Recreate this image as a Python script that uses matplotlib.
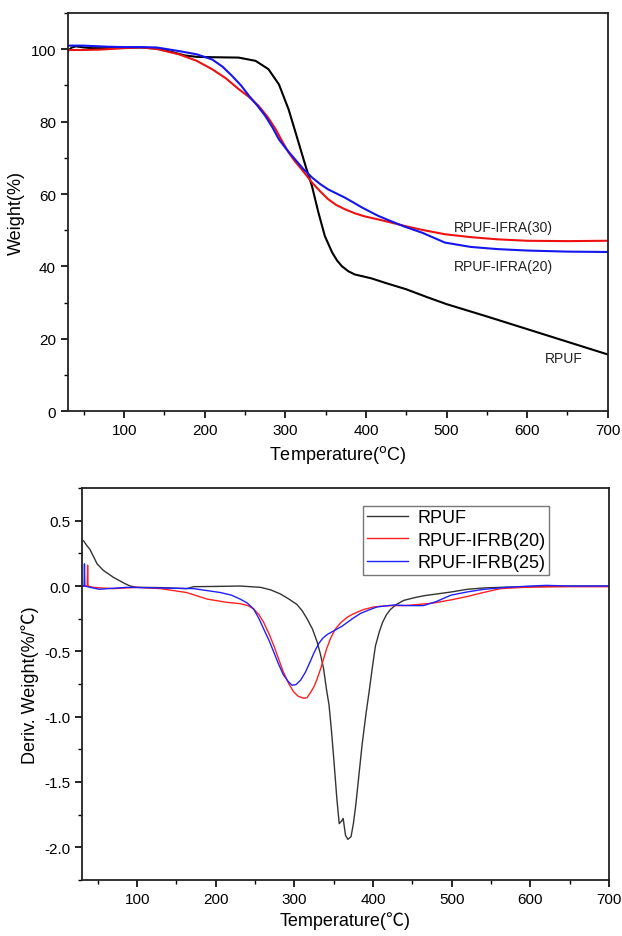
import numpy as np
import matplotlib.pyplot as plt
from matplotlib.ticker import MultipleLocator

plt.rcParams['font.family'] = ['Liberation Sans', 'Noto Sans CJK SC', 'DejaVu Sans']

## TGA (ust panel)
tga_rpuf_T = [30, 35, 40, 50, 60, 80, 100, 120, 140, 160, 175, 190, 210, 242, 263, 279, 292, 304, 314,
              325, 333, 341, 349, 358, 364, 370, 378, 386, 407, 425, 450, 475, 500, 550, 600, 650, 700]
tga_rpuf_W = [99.5, 100.5, 100.8, 100.5, 100.3, 100.3, 100.4, 100.5, 100.2, 99.2, 98.3, 97.9, 97.8,
              97.7, 96.8, 94.5, 90.3, 83.4, 76, 67.8, 62.2, 54.9, 48.4, 43.9, 41.7, 40.1, 38.7, 37.8,
              36.7, 35.4, 33.7, 31.6, 29.6, 26.2, 22.7, 19.2, 15.7]

tga_ifra30_T = [30, 50, 70, 100, 120, 140, 168, 190, 209, 226, 242, 255, 267, 278, 288, 296, 304, 312,
                320, 333, 343, 353, 363, 374, 386, 399, 415, 430, 448, 470, 498, 530, 563, 600, 650, 700]
tga_ifra30_W = [99.8, 99.8, 99.9, 100.3, 100.5, 100.1, 98.6, 96.8, 94.5, 92, 89, 86.8, 84.3, 81.3,
                77.9, 74.6, 71.5, 69, 66.9, 63.2, 60.8, 58.6, 57, 55.8, 54.7, 53.8, 53, 52.2, 51.2,
                50.1, 48.9, 48.1, 47.5, 47.1, 47, 47.1]

tga_ifra20_T = [30, 50, 80, 100, 120, 140, 168, 190, 209, 222, 234, 245, 255, 265, 275, 284, 292, 302,
                312, 322, 333, 343, 353, 364, 374, 385, 395, 415, 430, 448, 470, 498, 530, 563, 600,
                650, 700]
tga_ifra20_W = [101, 101, 100.7, 100.6, 100.6, 100.5, 99.5, 98.6, 97.2, 95.2, 92.6, 90, 87.1, 84.5,
                81.6, 78.4, 75.1, 72.2, 69.6, 67, 64.6, 62.8, 61.3, 60.1, 59, 57.6, 56.3, 54, 52.6,
                51, 49.3, 46.6, 45.4, 44.8, 44.4, 44.1, 44]

## DTG (alt panel)
dtg_rpuf_T = [30, 32, 36, 40, 45, 49, 57, 70, 83, 91, 100, 130, 163, 172, 200, 231, 257, 270, 282, 293,
              303, 310, 316, 323, 329, 333, 337, 341, 344, 347, 350, 354, 357, 360, 362, 365, 368,
              372, 375, 378, 382, 386, 391, 395, 399, 403, 408, 412, 417, 422, 430, 439, 452, 465,
              482, 500, 520, 540, 562, 600, 650, 700]
dtg_rpuf_D = [0.35, 0.345, 0.31, 0.28, 0.22, 0.17, 0.12, 0.066, 0.023, 0.0, -0.01, -0.012, -0.02,
              -0.005, -0.003, 0.0, -0.01, -0.03, -0.06, -0.1, -0.14, -0.19, -0.25, -0.33, -0.43,
              -0.52, -0.63, -0.8, -0.91, -1.1, -1.32, -1.63, -1.82, -1.8, -1.78, -1.91, -1.94, -1.92,
              -1.82, -1.68, -1.45, -1.22, -0.98, -0.81, -0.63, -0.46, -0.35, -0.28, -0.22, -0.18,
              -0.14, -0.11, -0.09, -0.074, -0.06, -0.045, -0.025, -0.015, -0.01, -0.005, 0.0, 0.0]

dtg_ifrb20_T = [30, 36.5, 37, 37.5, 44, 55, 70, 100, 130, 163, 189, 214, 231, 241, 248, 255, 261, 268,
                274, 280, 286, 293, 299, 305, 312, 316, 320, 325, 329, 333, 337, 341, 346, 352, 359,
                367, 376, 388, 401, 420, 440, 460, 477, 500, 520, 540, 562, 585, 605, 650, 700]
dtg_ifrb20_D = [0.0, 0.0, 0.16, 0.0, -0.01, -0.015, -0.02, -0.01, -0.02, -0.05, -0.1, -0.125, -0.135,
                -0.15, -0.175, -0.22, -0.28, -0.37, -0.46, -0.56, -0.66, -0.75, -0.81, -0.845, -0.86,
                -0.855, -0.82, -0.77, -0.71, -0.64, -0.56, -0.48, -0.4, -0.33, -0.28, -0.24, -0.21,
                -0.18, -0.16, -0.15, -0.15, -0.14, -0.13, -0.105, -0.08, -0.05, -0.02, -0.012,
                -0.008, -0.005, -0.005]

dtg_ifrb25_T = [30, 32.5, 33, 33.5, 40, 52, 62, 87, 130, 172, 206, 220, 231, 240, 248, 255, 261, 268,
                274, 280, 286, 292, 297, 302, 308, 314, 320, 325, 331, 336, 342, 348, 354, 360, 367,
                375, 384, 394, 405, 427, 445, 464, 480, 499, 520, 541, 570, 600, 620, 650, 700]
dtg_ifrb25_D = [0.0, 0.0, 0.17, 0.0, -0.01, -0.025, -0.02, -0.01, -0.015, -0.02, -0.05, -0.07, -0.1,
                -0.13, -0.175, -0.25, -0.33, -0.42, -0.51, -0.6, -0.68, -0.73, -0.76, -0.755, -0.72,
                -0.66, -0.58, -0.51, -0.44, -0.4, -0.37, -0.35, -0.33, -0.31, -0.28, -0.245, -0.21,
                -0.185, -0.16, -0.145, -0.15, -0.15, -0.12, -0.07, -0.045, -0.025, -0.01, 0.0, 0.005,
                0.0, 0.0]

fig = plt.figure(figsize=(6.22, 9.37), dpi=100)
ax1 = fig.add_axes([0.109, 0.560, 0.868, 0.425])
ax2 = fig.add_axes([0.132, 0.060, 0.847, 0.418])

##UST PANEL
ax1.plot(tga_rpuf_T, tga_rpuf_W, color='black', lw=1.5)
ax1.plot(tga_ifra30_T, tga_ifra30_W, color='#ee1111', lw=1.5)
ax1.plot(tga_ifra20_T, tga_ifra20_W, color='#1515ee', lw=1.5)
ax1.text(570, 51, 'RPUF-IFRA(30)', fontsize=10, ha='center', va='center', color='#222222')
ax1.text(570, 40, 'RPUF-IFRA(20)', fontsize=10, ha='center', va='center', color='#222222')
ax1.text(646, 14.6, 'RPUF', fontsize=10, ha='center', va='center', color='#222222')
ax1.set_xlim(30, 700)
ax1.set_ylim(0, 110)
ax1.xaxis.set_major_locator(MultipleLocator(100))
ax1.xaxis.set_minor_locator(MultipleLocator(50))
ax1.yaxis.set_major_locator(MultipleLocator(20))
ax1.yaxis.set_minor_locator(MultipleLocator(10))
ax1.set_yticks([0, 20, 40, 60, 80, 100])
ax1.set_xlabel('Temperature($^{\\mathrm{o}}$C)', fontsize=13)
ax1.set_ylabel('Weight(%)', fontsize=13)

##ALT PANEL
ax2.plot(dtg_rpuf_T, dtg_rpuf_D, color='#333333', lw=1.0, label='RPUF')
ax2.plot(dtg_ifrb20_T, dtg_ifrb20_D, color='#ff2020', lw=1.0, label='RPUF-IFRB(20)')
ax2.plot(dtg_ifrb25_T, dtg_ifrb25_D, color='#2020ff', lw=1.0, label='RPUF-IFRB(25)')
ax2.set_xlim(30, 700)
ax2.set_ylim(-2.25, 0.75)
ax2.xaxis.set_major_locator(MultipleLocator(100))
ax2.xaxis.set_minor_locator(MultipleLocator(50))
ax2.yaxis.set_major_locator(MultipleLocator(0.5))
ax2.yaxis.set_minor_locator(MultipleLocator(0.25))
ax2.set_yticks([-2.0, -1.5, -1.0, -0.5, 0.0, 0.5])
ax2.set_yticklabels(['-2.0', '-1.5', '-1.0', '-0.5', '0.0', '0.5'])
ax2.set_xlabel('Temperature(℃)', fontsize=13)
ax2.set_ylabel('Deriv. Weight(%/℃)', fontsize=13)
leg = ax2.legend(loc='upper left', bbox_to_anchor=(0.533, 0.955), fontsize=13, frameon=True,
                 fancybox=False, edgecolor='#555555', handlelength=2.3, borderpad=0.2,
                 labelspacing=0.3, handletextpad=0.5, borderaxespad=0)
leg.get_frame().set_linewidth(1.0)

for ax in (ax1, ax2):
    for s in ax.spines.values():
        s.set_linewidth(1.3)
        s.set_color('#222222')
    ax.tick_params(which='major', direction='out', length=5, width=1.2, labelsize=11)
    ax.tick_params(which='minor', direction='out', length=3, width=1.0)

plt.savefig('out.png', dpi=100)
